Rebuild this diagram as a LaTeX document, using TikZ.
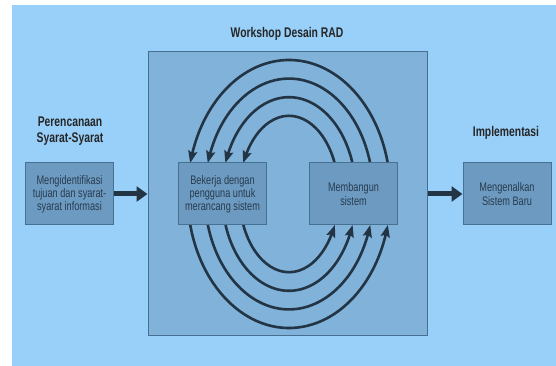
\documentclass[tikz,border=0pt]{standalone}
\usepackage{fontspec}
\setmainfont[FakeStretch=0.74]{Liberation Sans}
\usetikzlibrary{arrows.meta,calc,bending}
\definecolor{bgblue}{RGB}{153,208,250}
\definecolor{wsfill}{RGB}{128,178,218}
\definecolor{wsline}{RGB}{70,110,145}
\definecolor{boxfill}{RGB}{108,154,192}
\definecolor{boxline}{RGB}{72,112,145}
\definecolor{ink}{RGB}{35,52,68}
\definecolor{txt}{RGB}{40,60,80}
\begin{document}
\begin{tikzpicture}[x=1pt,y=1pt,
  stagebox/.style={draw=boxline, line width=1pt, fill=boxfill, minimum width=88pt,
    minimum height=62pt, align=center, font=\fontsize{12.4}{13.2}\selectfont, text=txt, inner sep=1pt},
  wsbox/.style={draw=wsline, line width=1pt, fill=wsfill, minimum width=279pt, minimum height=284pt},
  title/.style={font=\bfseries\fontsize{14}{16.5}\selectfont, text=black!85, align=center},
  loop/.style={draw=ink, line width=2.6pt, -{Stealth[length=12pt,width=9pt,inset=2pt,bend]}},
  flow/.style={draw=ink, line width=5pt, -{Triangle[length=11pt,width=15pt]}}]
\useasboundingbox (0,0) rectangle (556,366);
\fill[white] (0,0) rectangle (556,366);
\fill[bgblue] (12,0) rectangle (556,361);

\node[wsbox] (ws) at (287.5,172) {};
\node[title] (wst) at (287,332) {Workshop Desain RAD};
\node[title] (pst) at (70,235) {Perencanaan\\Syarat-Syarat};
\node[title] (imt) at (506,233) {Implementasi};

\coordinate (ec) at (289,172);
% top arcs (Membangun -> Bekerja)
\draw[loop] (ec) ++(13.37:101.5pt and 134pt) arc[start angle=13.37, end angle=166.63, x radius=101.5pt, y radius=134pt];
\draw[loop] (ec) ++(15.58:84.25pt and 115.4pt) arc[start angle=15.58, end angle=164.42, x radius=84.25pt, y radius=115.4pt];
\draw[loop] (ec) ++(18.68:67pt and 96.8pt) arc[start angle=18.68, end angle=161.32, x radius=67pt, y radius=96.8pt];
\draw[loop] (ec) ++(23.36:49.75pt and 78.2pt) arc[start angle=23.36, end angle=156.64, x radius=49.75pt, y radius=78.2pt];
% bottom arcs (Bekerja -> Membangun)
\draw[loop] (ec) ++(193.37:101.5pt and 134pt) arc[start angle=193.37, end angle=346.63, x radius=101.5pt, y radius=134pt];
\draw[loop] (ec) ++(195.58:84.25pt and 115.4pt) arc[start angle=195.58, end angle=344.42, x radius=84.25pt, y radius=115.4pt];
\draw[loop] (ec) ++(198.68:67pt and 96.8pt) arc[start angle=198.68, end angle=341.32, x radius=67pt, y radius=96.8pt];
\draw[loop] (ec) ++(203.36:49.75pt and 78.2pt) arc[start angle=203.36, end angle=336.64, x radius=49.75pt, y radius=78.2pt];

\node[stagebox] (req) at (69.5,172) {Mengidentifikasi\\tujuan dan syarat-\\syarat informasi};
\node[stagebox] (work) at (222.5,172) {Bekerja dengan\\pengguna untuk\\merancang sistem};
\node[stagebox] (build) at (353.5,172) {Membangun\\sistem};
\node[stagebox] (impl) at (507,172) {Mengenalkan\\Sistem Baru};

\draw[flow] (req.east) -- (ws.west);
\draw[flow] (ws.east) -- (impl.west);
\end{tikzpicture}
\end{document}
